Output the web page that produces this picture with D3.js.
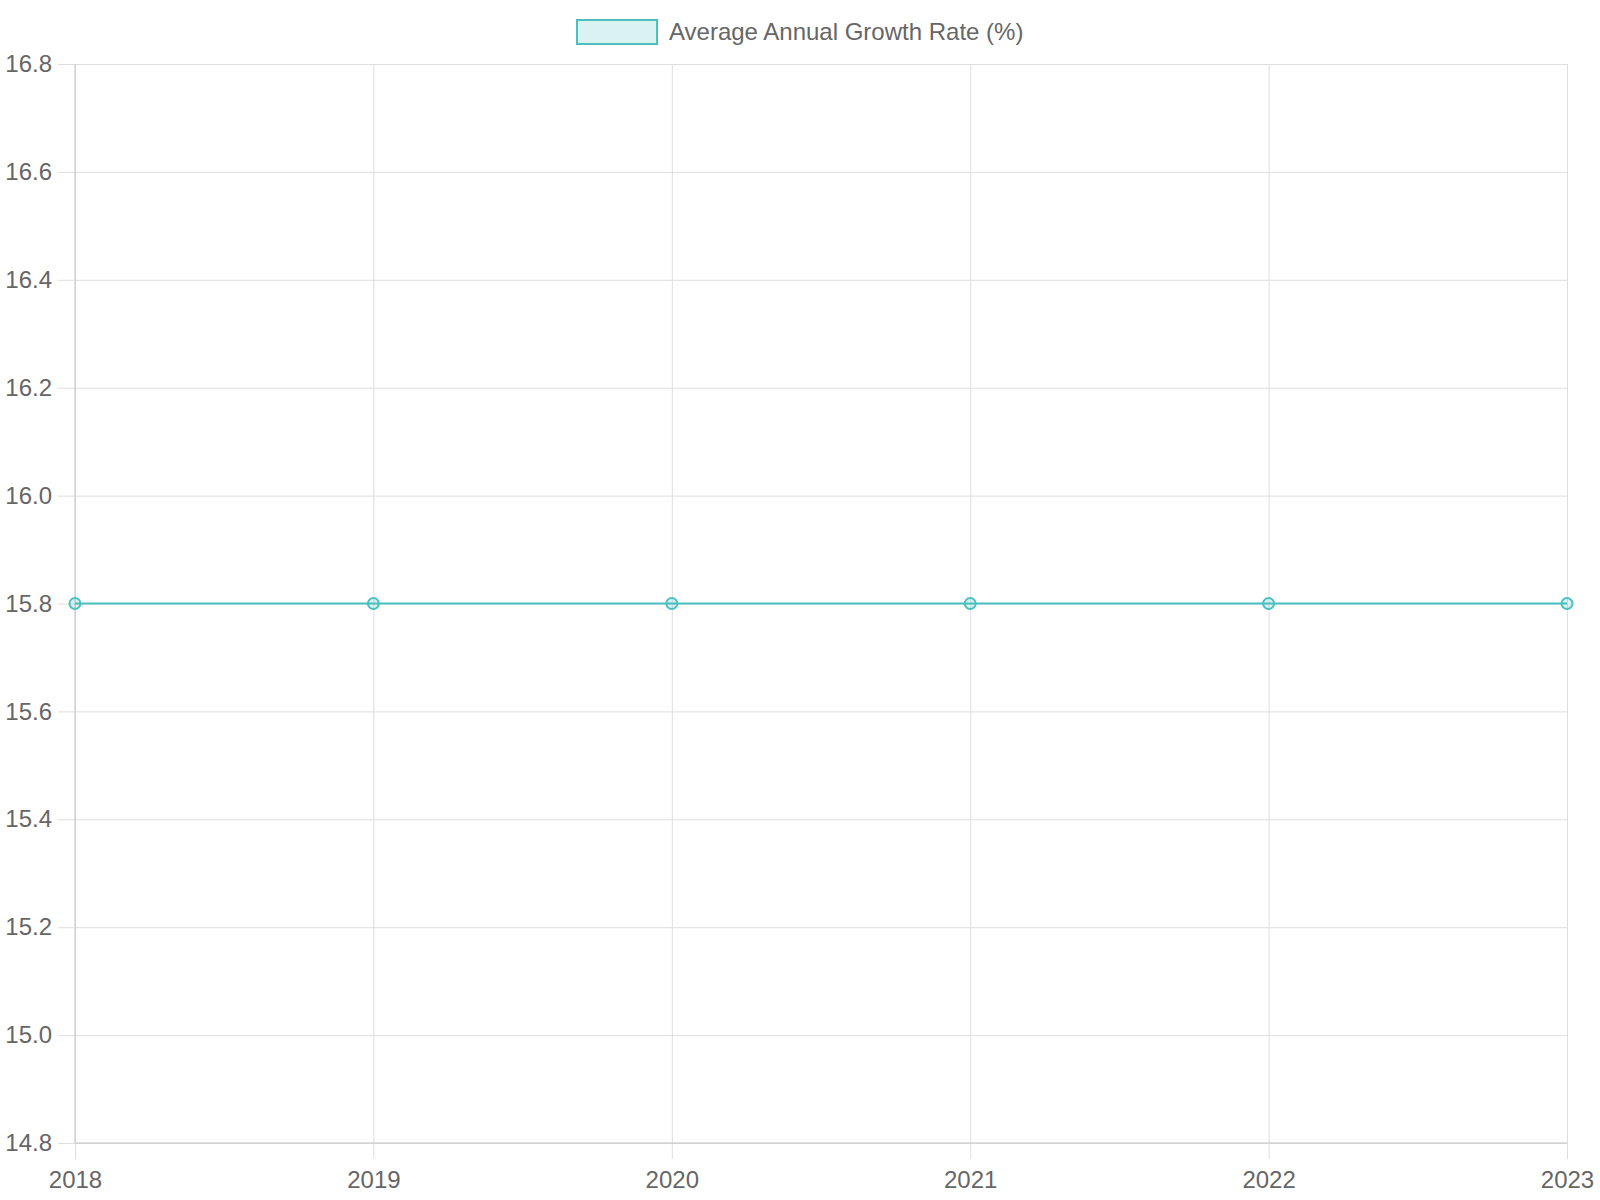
<!DOCTYPE html>
<html>
<head>
<meta charset="utf-8">
<title>Average Annual Growth Rate</title>
<script src="https://cdn.jsdelivr.net/npm/d3@7"></script>
<style>
  body { margin: 0; background: #fff; }
  text { font-family: "Liberation Sans", Arial, sans-serif; fill: #666; }
</style>
</head>
<body>
<script>
// data
var years = ["2018", "2019", "2020", "2021", "2022", "2023"];
var growthRate = [15.8, 15.8, 15.8, 15.8, 15.8, 15.8];
var yTicks = [14.8, 15.0, 15.2, 15.4, 15.6, 15.8, 16.0, 16.2, 16.4, 16.6, 16.8];
var seriesName = "Average Annual Growth Rate (%)";

var w = 1600, h = 1200;
// plot area edges (named so they don't clash with window.top)
var plotLeft = 75, plotRight = 1567, plotTop = 64, plotBottom = 1143;
var teal = "rgb(75,192,192)";
var gridColor = "#dedede";

var svg = d3.select("body").append("svg")
    .attr("width", w)
    .attr("height", h);

var x = d3.scalePoint().domain(years).range([plotLeft, plotRight]);
var y = d3.scaleLinear().domain([14.8, 16.8]).range([plotBottom, plotTop]);

// horizontal grid + y ticks
var yAxis = d3.axisLeft(y)
    .tickValues(yTicks)
    .tickFormat(d3.format(".1f"))
    .tickSize(-(plotRight - plotLeft))
    .tickPadding(23);
var gy = svg.append("g")
    .attr("transform", "translate(" + plotLeft + ",0)")
    .call(yAxis);
gy.select(".domain").remove();
gy.selectAll(".tick line")
    .attr("x1", -17)
    .attr("stroke", gridColor);
gy.selectAll(".tick text")
    .attr("font-size", "24px")
    .attr("fill", "#666");

// vertical grid + x ticks
var xAxis = d3.axisBottom(x)
    .tickSize(-(plotBottom - plotTop))
    .tickPadding(28);
var gx = svg.append("g")
    .attr("transform", "translate(0," + plotBottom + ")")
    .call(xAxis);
gx.select(".domain").remove();
gx.selectAll(".tick line")
    .attr("y1", 16)
    .attr("stroke", gridColor);
gx.selectAll(".tick text")
    .attr("y", 28)
    .attr("font-size", "24px")
    .attr("fill", "#666");

// axis border lines
svg.append("line")
    .attr("x1", plotLeft).attr("x2", plotLeft)
    .attr("y1", plotTop).attr("y2", plotBottom)
    .attr("stroke", "#c4c4c4");
svg.append("line")
    .attr("x1", plotLeft).attr("x2", plotRight)
    .attr("y1", plotBottom).attr("y2", plotBottom)
    .attr("stroke", "#c4c4c4");

// series line
var line = d3.line()
    .x(function(d, i) { return x(years[i]); })
    .y(function(d) { return y(d); });

svg.append("path")
    .datum(growthRate)
    .attr("d", line)
    .attr("fill", "none")
    .attr("stroke", teal)
    .attr("stroke-width", 2);

svg.selectAll("circle.pt")
    .data(growthRate)
    .enter()
    .append("circle")
    .attr("class", "pt")
    .attr("cx", function(d, i) { return x(years[i]); })
    .attr("cy", function(d) { return y(d); })
    .attr("r", 5.5)
    .attr("fill", "rgba(75,192,192,0.2)")
    .attr("stroke", teal)
    .attr("stroke-width", 2);

// legend
var legend = svg.append("g");
legend.append("rect")
    .attr("x", 577).attr("y", 20)
    .attr("width", 80).attr("height", 24)
    .attr("fill", "rgba(75,192,192,0.2)")
    .attr("stroke", teal)
    .attr("stroke-width", 2);
legend.append("text")
    .attr("x", 669).attr("y", 40)
    .attr("font-size", "24px")
    .attr("fill", "#666")
    .text(seriesName);
</script>
</body>
</html>
